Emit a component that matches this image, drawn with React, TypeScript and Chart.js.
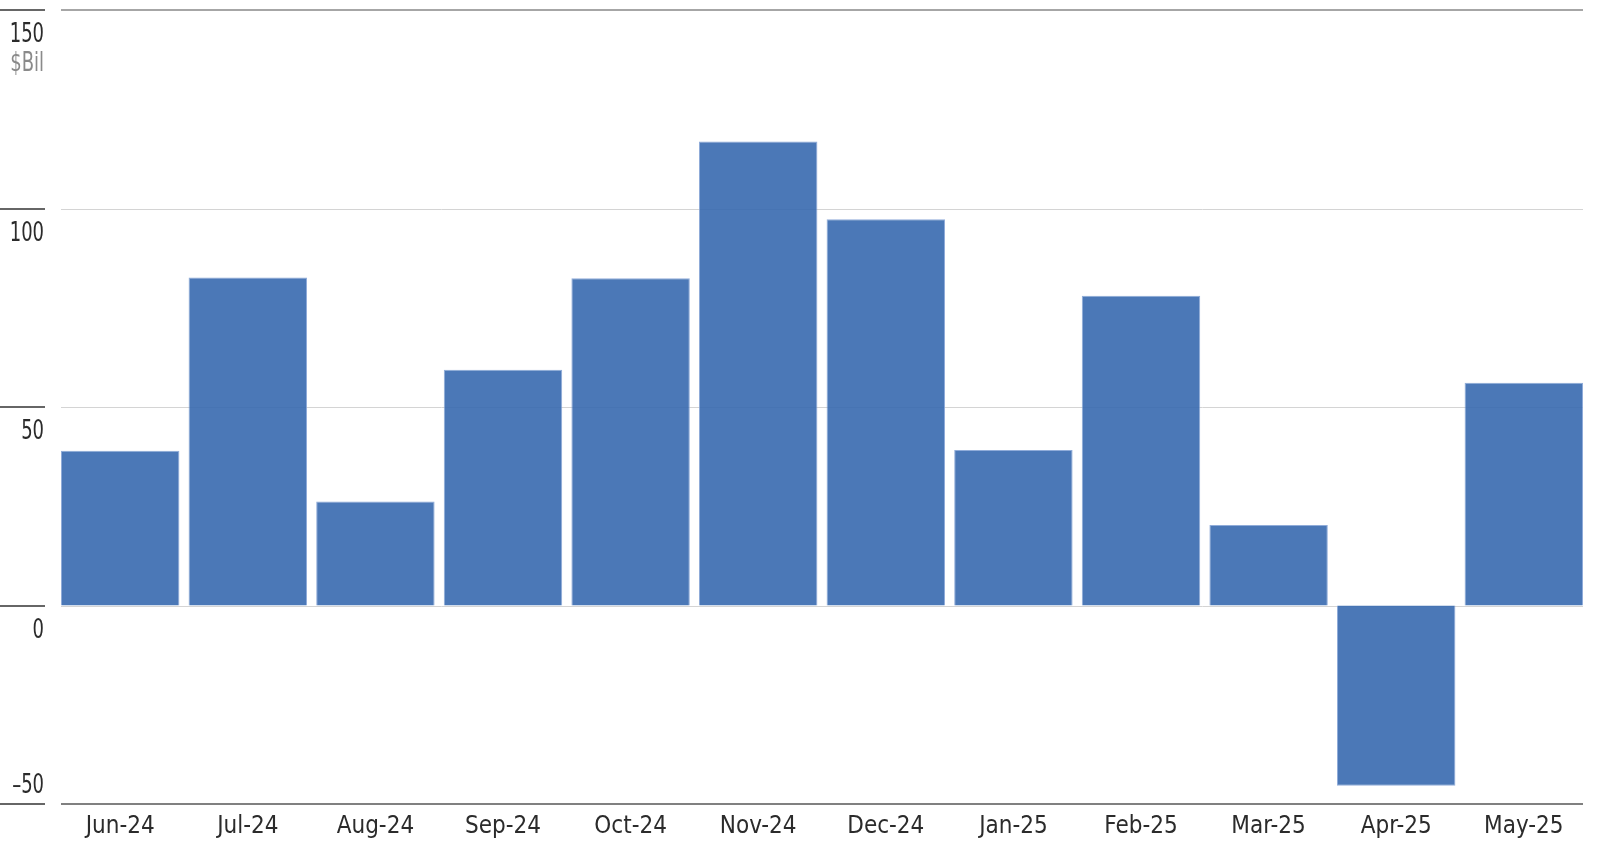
import React, { useEffect, useRef } from 'react'
import { Chart, registerables, ChartConfiguration, Plugin } from 'chart.js'

Chart.register(...registerables)

const months = [
  'Jun-24', 'Jul-24', 'Aug-24', 'Sep-24', 'Oct-24', 'Nov-24',
  'Dec-24', 'Jan-25', 'Feb-25', 'Mar-25', 'Apr-25', 'May-25',
]
const flows = [39.0, 82.6, 26.2, 59.4, 82.4, 116.9, 97.3, 39.2, 78.0, 20.3, -45.4, 56.1]
const yMin = -50
const yMax = 150
const yStep = 50
const unitLabel = '$Bil'

const FONT = '"Liberation Sans Narrow", "DejaVu Sans Condensed", "Roboto", sans-serif'
const FONT_SIZE = 24

const fmtTick = (v: number) => (v < 0 ? '\u2013' + Math.abs(v) : String(v))

// horizontal rules span exactly from the first bar's left edge to the last bar's right edge
const gridRules: Plugin<'bar'> = {
  id: 'gridRules',
  beforeDatasetsDraw(chart) {
    const { ctx } = chart
    const y = chart.scales.y
    const bars = chart.getDatasetMeta(0).data as any[]
    if (!bars.length) return
    const x0 = bars[0].x - bars[0].width / 2
    const x1 = bars[bars.length - 1].x + bars[bars.length - 1].width / 2
    ctx.save()
    y.ticks.forEach((t) => {
      const py = y.getPixelForValue(t.value)
      const edge = t.value === yMax || t.value === yMin
      ctx.strokeStyle = t.value === yMax ? '#a6a6a6' : t.value === yMin ? '#808080' : '#d4d4d4'
      ctx.lineWidth = edge ? 2 : 1
      const yy = edge ? Math.round(py) : Math.round(py) + 0.5
      ctx.beginPath()
      ctx.moveTo(x0, yy)
      ctx.lineTo(x1, yy)
      ctx.stroke()
    })
    ctx.restore()
  },
}

// left-side tick marks and labels sit below their rule (the bottom one above)
const axisDecor: Plugin<'bar'> = {
  id: 'axisDecor',
  afterDraw(chart) {
    const { ctx } = chart
    const y = chart.scales.y
    const drawLabel = (text: string, x: number, yy: number, color: string) => {
      ctx.save()
      ctx.translate(x, yy)
      ctx.scale(0.74, 1) // condensed look
      ctx.fillStyle = color
      ctx.fillText(text, 0, 0)
      ctx.restore()
    }
    ctx.save()
    ctx.font = `27px ${FONT}`
    ctx.textAlign = 'right'
    ctx.textBaseline = 'middle'
    y.ticks.forEach((t) => {
      const py = Math.round(y.getPixelForValue(t.value))
      ctx.strokeStyle = '#666666'
      ctx.lineWidth = 2
      ctx.beginPath()
      ctx.moveTo(0, py)
      ctx.lineTo(45, py)
      ctx.stroke()
      const off = t.value === yMin ? -18 : 25
      drawLabel(fmtTick(t.value), 44, py + off, '#2b2b2b')
      if (t.value === yMax) {
        drawLabel(unitLabel, 44, py + off + 29, '#8a8a8a')
      }
    })
    ctx.restore()
  },
}

const FlowsChart = () => {
  const canvasRef = useRef<HTMLCanvasElement>(null)
  const chartRef = useRef<Chart<'bar'>>()

  useEffect(() => {
    document.body.style.margin = '0'
    if (!canvasRef.current) return
    const config: ChartConfiguration<'bar', number[], string> = {
      type: 'bar',
      data: {
        labels: months,
        datasets: [
          {
            data: flows,
            backgroundColor: 'rgba(55, 105, 175, 0.9)',
            borderColor: 'rgba(125, 158, 210, 0.85)',
            borderWidth: 1,
            barPercentage: 0.928,
            categoryPercentage: 1,
          },
        ],
      },
      options: {
        animation: false,
        responsive: true,
        maintainAspectRatio: false,
        layout: { padding: { left: 56.4, right: 12.4, top: 10, bottom: 14 } },
        plugins: {
          legend: { display: false },
          tooltip: { enabled: false },
        },
        scales: {
          x: {
            grid: { display: false, drawTicks: false },
            border: { display: false },
            ticks: {
              color: '#2b2b2b',
              font: { family: FONT, size: FONT_SIZE },
              padding: 8,
              maxRotation: 0,
              autoSkip: false,
            },
            afterFit: (scale) => {
              scale.height = 36
            },
          },
          y: {
            min: yMin,
            max: yMax,
            border: { display: false },
            ticks: { display: false, stepSize: yStep },
            grid: { display: false, drawTicks: false },
          },
        },
      },
      plugins: [gridRules, axisDecor],
    }
    chartRef.current = new Chart(canvasRef.current, config)

    return () => {
      if (chartRef.current) {
        chartRef.current.destroy()
      }
    }
  }, [])

  return (
    <div style={{ position: 'relative', width: 1600, height: 854 }}>
      <canvas ref={canvasRef} />
    </div>
  )
}

export default function App() {
  return <FlowsChart />
}
